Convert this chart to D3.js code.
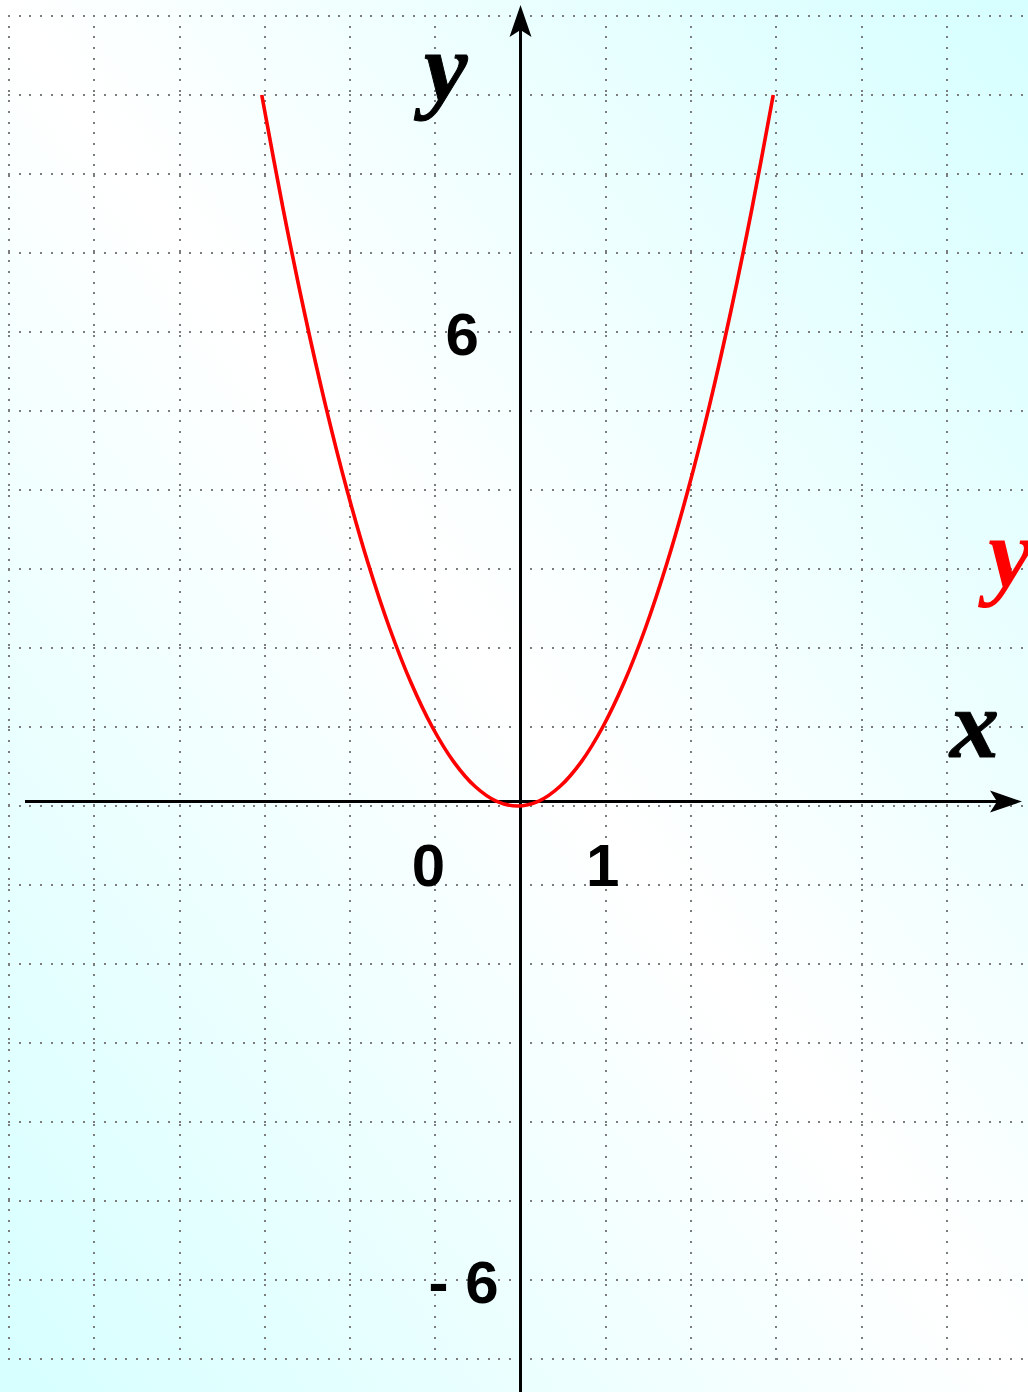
<!DOCTYPE html>
<html>
<head>
<meta charset="utf-8">
<script src="https://cdn.jsdelivr.net/npm/d3@7"></script>
<style>
  html, body { margin: 0; padding: 0; overflow: hidden; }
  svg { display: block; }
</style>
</head>
<body>
<svg id="chart" width="1028" height="1392"></svg>
<script>
// grid extents in units (one cell = 1)
const xGrid = d3.range(-6, 7);           // vertical dotted lines
const yGrid = d3.range(-7, 11);          // horizontal dotted lines

// y = x²
const curveX = [-3, -2.75, -2.5, -2.25, -2, -1.75, -1.5, -1.25, -1, -0.75, -0.5, -0.25, 0,
                0.25, 0.5, 0.75, 1, 1.25, 1.5, 1.75, 2, 2.25, 2.5, 2.75, 3];
const curveY = [9, 7.5625, 6.25, 5.0625, 4, 3.0625, 2.25, 1.5625, 1, 0.5625, 0.25, 0.0625, 0,
                0.0625, 0.25, 0.5625, 1, 1.5625, 2.25, 3.0625, 4, 5.0625, 6.25, 7.5625, 9];

// tick labels
const yLabels = [{v: 6, t: "6", dx: -75}, {v: -6, t: "- 6", dx: -92}];
const xLabels = [{v: 0, t: "0"}, {v: 1, t: "1"}];

const svg = d3.select("#chart");
const W = 1028, H = 1392;

const sx = d3.scaleLinear().domain([-6, 6]).range([9, 1032]);
const sy = d3.scaleLinear().domain([-7, 10]).range([1359, 16]);

// background
const defs = svg.append("defs");
const grad = defs.append("linearGradient")
    .attr("id", "bg")
    .attr("x1", 1).attr("y1", 0).attr("x2", 0).attr("y2", 1);
grad.append("stop").attr("offset", 0).attr("stop-color", "#d6ffff");
grad.append("stop").attr("offset", 0.5).attr("stop-color", "#ffffff");
grad.append("stop").attr("offset", 1).attr("stop-color", "#d6ffff");
svg.append("rect").attr("width", W).attr("height", H).attr("fill", "url(#bg)");

// dotted grid
const grid = svg.append("g")
    .attr("stroke", "#7c7c7c")
    .attr("stroke-width", 2)
    .attr("stroke-dasharray", "2 8.66")
    .attr("shape-rendering", "crispEdges")
    .attr("fill", "none");

grid.selectAll("line.h")
    .data(yGrid)
    .enter().append("line")
    .attr("x1", Math.round(sx(-6)) - 1).attr("x2", W)
    .attr("y1", d => Math.round(sy(d))).attr("y2", d => Math.round(sy(d)));

grid.selectAll("line.v")
    .data(xGrid)
    .enter().append("line")
    .attr("x1", d => Math.round(sx(d))).attr("x2", d => Math.round(sx(d)))
    .attr("y1", Math.round(sy(10)) - 1).attr("y2", Math.round(sy(-7)) + 1);

// axes
const x0 = Math.round(sx(0)) - 0.5, y0 = Math.round(sy(0)) - 4.5;
const axes = svg.append("g").attr("stroke", "#000").attr("stroke-width", 3);
axes.append("line").attr("x1", 25).attr("x2", 1000).attr("y1", y0).attr("y2", y0);
axes.append("line").attr("x1", x0).attr("x2", x0).attr("y1", H).attr("y2", 25);

svg.append("path")
    .attr("d", `M${x0},5 L${x0 + 11},37 L${x0},30 L${x0 - 11},37 Z`)
    .attr("fill", "#000");
svg.append("path")
    .attr("d", `M1022,${y0} L990,${y0 - 11} L997,${y0} L990,${y0 + 11} Z`)
    .attr("fill", "#000");

// parabola
const pts = curveX.map((x, i) => [x, curveY[i]]);
const line = d3.line()
    .x(d => sx(d[0]) - 3)
    .y(d => sy(d[1]))
    .curve(d3.curveCatmullRom);

svg.append("path")
    .datum(pts)
    .attr("d", line)
    .attr("fill", "none")
    .attr("stroke", "#ff0000")
    .attr("stroke-width", 3.6);

// numeric labels
const numFont = "'Liberation Sans', Arial, sans-serif";
svg.selectAll("text.ylab")
    .data(yLabels)
    .enter().append("text")
    .attr("x", d => x0 + d.dx)
    .attr("y", d => sy(d.v) + 23)
    .attr("font-family", numFont)
    .attr("font-weight", "bold")
    .attr("font-size", 60)
    .text(d => d.t);

svg.selectAll("text.xlab")
    .data(xLabels)
    .enter().append("text")
    .attr("x", d => d.v === 0 ? x0 - 92 : sx(d.v) - 3)
    .attr("y", y0 + 84)
    .attr("text-anchor", "middle")
    .attr("font-family", numFont)
    .attr("font-weight", "bold")
    .attr("font-size", 60)
    .text(d => d.t);

// axis names
const mathFont = "'Liberation Serif', 'Times New Roman', serif";
svg.append("text")
    .attr("x", 424).attr("y", 100)
    .attr("font-family", mathFont)
    .attr("font-style", "italic").attr("font-weight", "bold")
    .attr("font-size", 98)
    .attr("stroke", "#000").attr("stroke-width", 1)
    .text("y");

svg.append("text")
    .attr("x", 950).attr("y", 757)
    .attr("font-family", mathFont)
    .attr("font-style", "italic").attr("font-weight", "bold")
    .attr("font-size", 98)
    .attr("stroke", "#000").attr("stroke-width", 1)
    .text("x");

svg.append("text")
    .attr("x", 988).attr("y", 587)
    .attr("font-family", mathFont)
    .attr("font-style", "italic").attr("font-weight", "bold")
    .attr("font-size", 100)
    .attr("fill", "#ff0000")
    .text("y = x²");
</script>
</body>
</html>
